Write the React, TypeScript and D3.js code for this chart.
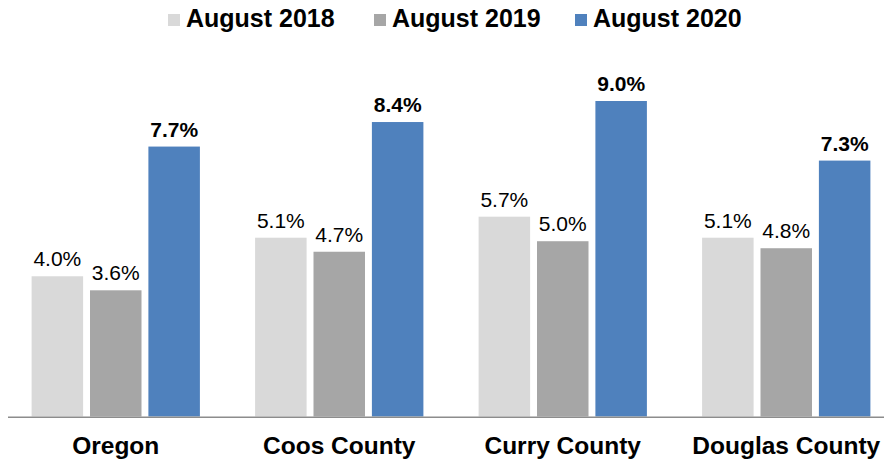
import * as d3 from "d3";

const categories = ["Oregon", "Coos County", "Curry County", "Douglas County"];
const seriesNames = ["August 2018", "August 2019", "August 2020"];
const aug2018 = [4.0, 5.1, 5.7, 5.1];
const aug2019 = [3.6, 4.7, 5.0, 4.8];
const aug2020 = [7.7, 8.4, 9.0, 7.3];
const colors = ["#d9d9d9", "#a6a6a6", "#4f81bd"];

const series = [aug2018, aug2019, aug2020];

const W = 884;
const H = 463;
const FONT = "'Liberation Sans', Arial, sans-serif";

export default function App() {
  const x0 = d3
    .scaleBand()
    .domain(categories)
    .range([4, 898])
    .paddingInner(0.247)
    .paddingOuter(0.1235);
  const x1 = d3
    .scaleBand()
    .domain(seriesNames)
    .range([0, x0.bandwidth()])
    .paddingInner(0.118);
  const y = d3.scaleLinear().domain([0, 9]).range([416.5, 101]);

  const legendX = [168, 374, 575];

  return (
    <svg
      width={W}
      height={H}
      style={{ position: "absolute", left: 0, top: 0 }}
      fontFamily={FONT}
    >
      <rect width={W} height={H} fill="#fff" />
      {/* legend */}
      {seriesNames.map((s, i) => (
        <g key={s} transform={`translate(${legendX[i]},0)`}>
          <rect x={0} y={14} width={12} height={12} fill={colors[i]} />
          <text x={18} y={27} fontSize={25} fontWeight="bold" fill="#000">
            {s}
          </text>
        </g>
      ))}
      {/* bars */}
      {categories.map((c, ci) => (
        <g key={c} transform={`translate(${x0(c)},0)`}>
          {seriesNames.map((s, si) => {
            const v = series[si][ci];
            const bx = x1(s)!;
            return (
              <g key={s}>
                <rect
                  x={bx}
                  y={y(v)}
                  width={x1.bandwidth()}
                  height={y(0) - y(v)}
                  fill={colors[si]}
                />
                <text
                  x={bx + x1.bandwidth() / 2}
                  y={y(v) - 10}
                  textAnchor="middle"
                  fontSize={21}
                  fontWeight={si === 2 ? "bold" : "normal"}
                  fill="#000"
                >
                  {v.toFixed(1)}%
                </text>
              </g>
            );
          })}
          <text
            x={x0.bandwidth() / 2}
            y={454}
            textAnchor="middle"
            fontSize={24.5}
            fontWeight="bold"
            fill="#000"
          >
            {c}
          </text>
        </g>
      ))}
      {/* axis */}
      <line x1={8} x2={884} y1={417.3} y2={417.3} stroke="#8c8c8c" strokeWidth={1.5} />
    </svg>
  );
}
